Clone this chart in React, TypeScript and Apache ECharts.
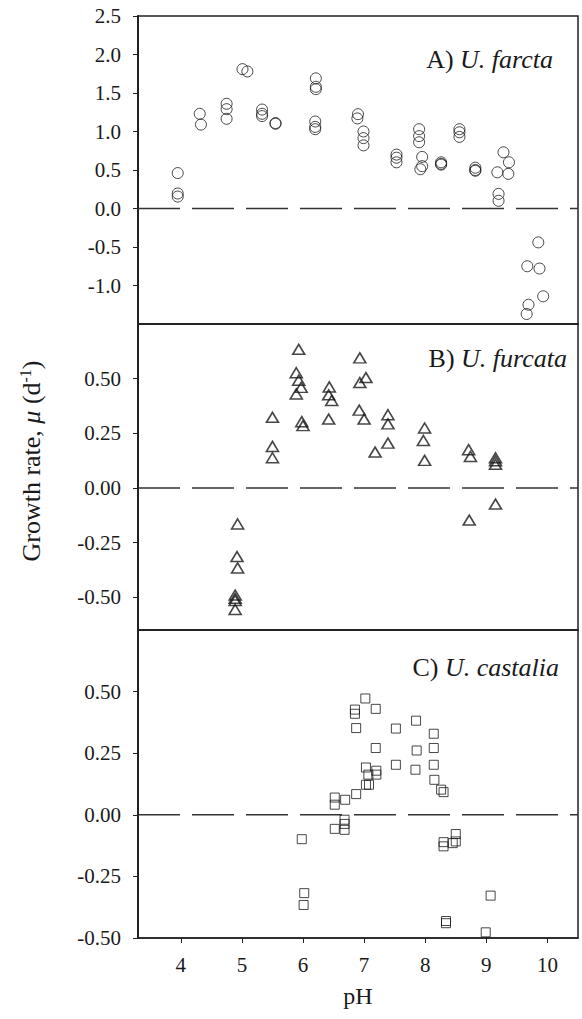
import React, { useEffect, useRef } from "react";
import * as echarts from "echarts";

// ---- Data ----
const farctaPH = [
  3.95, 3.95, 3.95, 4.31, 4.33, 4.75, 4.75, 4.75, 5.01, 5.09, 5.33, 5.33, 5.33, 5.55, 5.55,
  6.21, 6.21, 6.21, 6.2, 6.2, 6.2, 6.9, 6.89, 6.99, 6.99, 6.99, 7.53, 7.53, 7.53,
  7.9, 7.9, 7.9, 7.95, 7.95, 7.92, 8.26, 8.26, 8.26, 8.56, 8.56, 8.56, 8.82, 8.82, 8.82,
  9.28, 9.37, 9.18, 9.36, 9.2, 9.2, 9.85, 9.67, 9.87, 9.93, 9.69, 9.66,
];
const farctaRate = [
  0.46, 0.195, 0.155, 1.23, 1.09, 1.36, 1.29, 1.165, 1.81, 1.78, 1.285, 1.23, 1.2, 1.11, 1.1,
  1.69, 1.58, 1.55, 1.13, 1.06, 1.03, 1.225, 1.17, 1.0, 0.914, 0.82, 0.7, 0.66, 0.6,
  1.03, 0.94, 0.86, 0.67, 0.55, 0.51, 0.6, 0.58, 0.57, 1.03, 0.99, 0.93, 0.53, 0.5, 0.49,
  0.73, 0.6, 0.47, 0.45, 0.19, 0.1, -0.44, -0.75, -0.78, -1.14, -1.25, -1.37,
];

const furcataPH = [
  5.5, 5.5, 5.5, 4.93, 4.92, 4.93, 4.89, 4.89, 4.89, 4.89,
  5.93, 5.89, 5.93, 5.97, 5.89, 5.98, 6.0, 6.43, 6.42, 6.47, 6.42,
  6.93, 7.03, 6.93, 6.92, 7.0, 7.18, 7.39, 7.39, 7.39, 7.99, 7.97, 7.99,
  8.71, 8.74, 9.15, 9.15, 9.15, 9.15, 8.72,
];
const furcataRate = [
  0.323, 0.19, 0.138, -0.165, -0.314, -0.366, -0.49, -0.505, -0.515, -0.556,
  0.634, 0.527, 0.493, 0.46, 0.43, 0.303, 0.285, 0.462, 0.426, 0.4, 0.315,
  0.595, 0.505, 0.482, 0.356, 0.315, 0.164, 0.335, 0.293, 0.205, 0.274, 0.217, 0.126,
  0.175, 0.144, 0.138, 0.124, 0.108, -0.074, -0.147,
];

const castaliaPH = [
  5.98, 6.02, 6.01, 6.52, 6.52, 6.69, 6.52, 6.68, 6.68, 6.68,
  6.87, 6.85, 6.85, 7.02, 7.19, 6.87, 7.19, 7.03, 7.07, 7.2, 7.2, 7.03, 7.08,
  7.52, 7.52, 7.85, 7.86, 7.84, 8.14, 8.14, 8.14, 8.15, 8.26, 8.3,
  8.3, 8.3, 8.5, 8.5, 8.45, 8.34, 8.34, 8.99, 9.07,
];
const castaliaRate = [
  -0.099, -0.318, -0.366, 0.07, 0.041, 0.061, -0.057, -0.02, -0.037, -0.061,
  0.084, 0.427, 0.41, 0.472, 0.43, 0.352, 0.271, 0.192, 0.163, 0.179, 0.163, 0.122, 0.122,
  0.35, 0.203, 0.382, 0.261, 0.183, 0.329, 0.271, 0.203, 0.142, 0.102, 0.092,
  -0.111, -0.128, -0.078, -0.108, -0.115, -0.431, -0.44, -0.477, -0.328,
];

const xTicks = [4, 5, 6, 7, 8, 9, 10];
const xMin = 3.3;
const xMax = 10.5;
const ticksA = [-1.0, -0.5, 0.0, 0.5, 1.0, 1.5, 2.0, 2.5];
const ticksB = [-0.5, -0.25, 0, 0.25, 0.5];
const ticksC = [-0.5, -0.25, 0, 0.25, 0.5];
const rangeA = [-1.5, 2.5];
const rangeB = [-0.65, 0.75];
const rangeC = [-0.5, 0.75];
const zeroLine = [[xMin, 0], [xMax, 0]];

const FONT = "Liberation Serif";
const INK = "#1a1a1a";

const zip = (a: number[], b: number[]) => a.map((v, i) => [v, b[i]]);

export default function App() {
  const ref = useRef<HTMLDivElement>(null);
  useEffect(() => {
    if (!ref.current) return;
    const chart = echarts.init(ref.current, undefined, { renderer: "svg" });
    const grids = [
      { left: 138, width: 440, top: 16, height: 308 },
      { left: 138, width: 440, top: 324, height: 306 },
      { left: 138, width: 440, top: 630, height: 308 },
    ].map((g) => ({ ...g, show: true, borderColor: "#222", borderWidth: 1.5, backgroundColor: "transparent" }));

    const tickStyle = { show: true, length: 5, inside: false, lineStyle: { color: "#222", width: 1 } };

    const xAxisBase = (i: number, showTicks: boolean) => ({
      type: "value",
      gridIndex: i,
      min: xMin,
      max: xMax,
      splitLine: { show: false },
      axisLine: { show: true, onZero: false, lineStyle: { color: "#222", width: 1.5 } },
      axisTick: showTicks ? { ...tickStyle, customValues: xTicks } : { show: false },
      axisLabel: { show: false },
    });

    const yAxisBase = (i: number, range: number[], ticks: number[]) => ({
      type: "value",
      gridIndex: i,
      min: range[0],
      max: range[1],
      splitLine: { show: false },
      axisLine: { show: true, onZero: false, lineStyle: { color: "#222", width: 2 } },
      axisTick: { ...tickStyle, customValues: ticks },
      axisLabel: { show: false },
    });

    const scatter = (i: number, data: number[][], symbol: string, size: any, bw: number) => ({
      type: "scatter",
      xAxisIndex: i,
      yAxisIndex: i,
      data,
      symbol,
      symbolSize: size,
      itemStyle: { color: "rgba(0,0,0,0)", borderColor: INK, borderWidth: bw },
      z: 3,
    });

    const dash = (i: number) => ({
      type: "line",
      xAxisIndex: i,
      yAxisIndex: i,
      data: zeroLine,
      symbol: "none",
      silent: true,
      lineStyle: { color: "#333", width: 1.5, type: [42, 12] },
      z: 2,
    });

    chart.setOption({
      animation: false,
      backgroundColor: "#fff",
      grid: grids,
      xAxis: [xAxisBase(0, false), xAxisBase(1, false), xAxisBase(2, true)],
      yAxis: [yAxisBase(0, rangeA, ticksA), yAxisBase(1, rangeB, ticksB), yAxisBase(2, rangeC, ticksC)],
      series: [
        dash(0),
        dash(1),
        dash(2),
        scatter(0, zip(farctaPH, farctaRate), "circle", 11, 1),
        scatter(1, zip(furcataPH, furcataRate), "triangle", [12, 10], 1.6),
        scatter(2, zip(castaliaPH, castaliaRate), "rect", 9, 1),
      ],
    });

    // Tick labels placed through the library's own scales
    const tickText = (x: number, y: number, text: string, align: string) => ({
      type: "text",
      x,
      y,
      style: { text, align, verticalAlign: "middle", fontFamily: FONT, fontSize: 21, fill: INK },
    });
    const yLabels: any[] = [];
    [
      { i: 0, ticks: ticksA, dec: 1 },
      { i: 1, ticks: ticksB, dec: 2 },
      { i: 2, ticks: ticksC, dec: 2 },
    ].forEach(({ i, ticks, dec }) => {
      ticks.forEach((v) => {
        const p = chart.convertToPixel({ gridIndex: i } as any, [xMin, v]) as number[];
        yLabels.push(tickText(p[0] - 17, p[1], v.toFixed(dec), "right"));
      });
    });
    const xLabels = xTicks.map((v) => {
      const p = chart.convertToPixel({ gridIndex: 2 } as any, [v, rangeC[0]]) as number[];
      return tickText(p[0], p[1] + 27, String(v), "center");
    });

    const title = (txt: string, sp: string, right: number, y: number) => ({
      type: "text",
      x: right,
      y,
      style: {
        text: `{n|${txt} }{i|${sp}}`,
        align: "right",
        verticalAlign: "middle",
        rich: {
          n: { fontFamily: FONT, fontSize: 26, fill: INK },
          i: { fontFamily: FONT, fontSize: 26, fontStyle: "italic", fill: INK },
        },
      },
    });

    chart.setOption({
      graphic: [
        ...yLabels,
        ...xLabels,
        title("A)", "U. farcta", 553, 59),
        title("B)", "U. furcata", 567, 358),
        title("C)", "U. castalia", 559, 667),
        {
          type: "text",
          x: 358,
          y: 996,
          style: { text: "pH", align: "center", verticalAlign: "middle", fontFamily: FONT, fontSize: 24, fill: INK },
        },
        {
          type: "text",
          x: 31,
          y: 461,
          rotation: Math.PI / 2,
          style: {
            text: "{n|Growth rate, }{i|μ}{n| (d}{s|-1}{n|)}",
            align: "center",
            verticalAlign: "middle",
            rich: {
              n: { fontFamily: FONT, fontSize: 26, fill: INK, verticalAlign: "bottom" },
              i: { fontFamily: FONT, fontSize: 26, fontStyle: "italic", fill: INK, verticalAlign: "bottom" },
              s: { fontFamily: FONT, fontSize: 16, fill: INK, verticalAlign: "bottom", padding: [0, 0, 11, 0] },
            },
          },
        },
      ],
    });
    return () => chart.dispose();
  }, []);
  return (
    <div
      ref={ref}
      style={{ position: "fixed", left: 0, top: 0, width: 582, height: 1019, background: "#fff" }}
    />
  );
}
